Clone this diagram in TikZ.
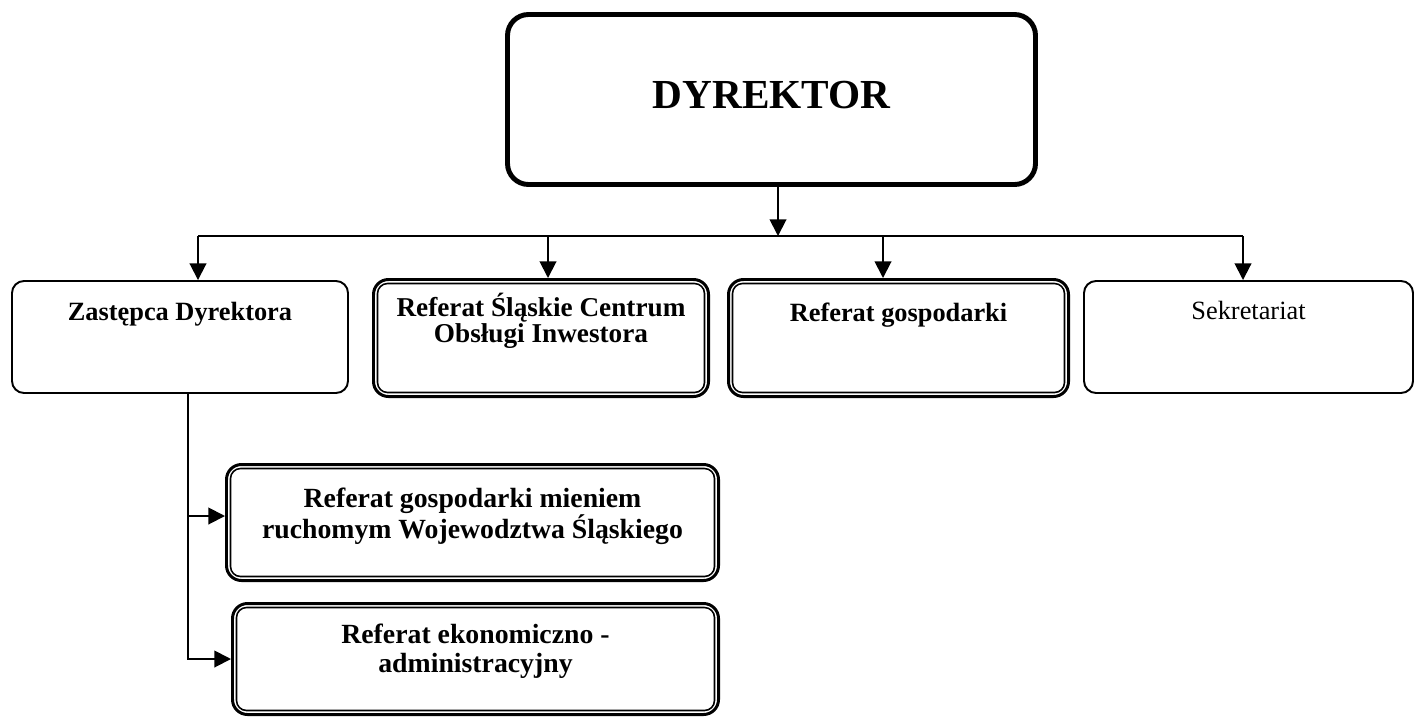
\documentclass[tikz,border=0pt]{standalone}
\usepackage{fontspec}
\setmainfont{Liberation Serif}
\usetikzlibrary{arrows.meta,calc,fit}

\tikzset{
  px/.style={x=0.02cm,y=-0.02cm},
  headbox/.style={draw, line width=2.8pt, rounded corners=0.42cm, inner sep=0pt},
  plainbox/.style={draw, line width=1.1pt, rounded corners=0.24cm, inner sep=0pt},
  dblbox/.style={draw, line width=1.7pt, rounded corners=0.3cm, inner sep=0pt},
  dblinner/.style={line width=0.9pt, rounded corners=0.2cm},
  conn/.style={line width=1.1pt},
  arr/.style={conn, -{Triangle[length=9.5pt,width=9.5pt]}},
  lbl/.style={inner sep=0pt, anchor=base},
}
% centred block of lines whose baseline is that of the first line
\newcommand\boxlines[3]{\parbox[t]{9cm}{\centering\fontsize{#1}{#2}\selectfont\bfseries #3}}

\begin{document}
\begin{tikzpicture}[px]
  \fill[white] (0,0) rectangle (1416,717);
  \useasboundingbox (0,0) rectangle (1416,717);

  % boxes
  \node[headbox, fit={(507.5,14.5) (1035.5,184.5)}, inner sep=0pt] (dir) {};
  \node[plainbox, fit={(12,281) (348,393)}, inner sep=0pt] (zast) {};
  \node[dblbox, fit={(373.5,279.5) (708.5,396.5)}, inner sep=0pt] (scoi) {};
  \node[dblbox, fit={(728.5,279.5) (1068.5,396.5)}, inner sep=0pt] (rgosp) {};
  \node[plainbox, fit={(1084,281) (1413,393)}, inner sep=0pt] (sekr) {};
  \node[dblbox, fit={(226.5,464.5) (718.5,580.5)}, inner sep=0pt] (rmien) {};
  \node[dblbox, fit={(232.5,603.5) (718.5,714.5)}, inner sep=0pt] (rekon) {};

  % inner line of the double-bordered boxes
  \foreach \n in {scoi,rgosp,rmien,rekon}
    \draw[dblinner] ($(\n.south west)+(0.11cm,0.11cm)$) rectangle ($(\n.north east)-(0.11cm,0.11cm)$);

  % labels
  \node[lbl, font=\fontsize{23.5}{26}\selectfont\bfseries] (tdir) at (771.5,108) {DYREKTOR};
  \node[lbl, font=\fontsize{15}{18}\selectfont\bfseries] (tzast) at (180,320) {Zastępca Dyrektora};
  \node[lbl] (tscoi) at (541,316) {\boxlines{15.5}{13.4}{Referat Śląskie Centrum\\Obsługi Inwestora}};
  \node[lbl, font=\fontsize{15}{18}\selectfont\bfseries] (trgosp) at (898.5,321) {Referat gospodarki};
  \node[lbl, font=\fontsize{15}{18}\selectfont] (tsekr) at (1248.5,319) {Sekretariat};
  \node[lbl] (trmien) at (472.5,507) {\boxlines{15.8}{16.2}{Referat gospodarki mieniem\\ruchomym Wojewodztwa Śląskiego}};
  \node[lbl] (trekon) at (475.5,643) {\boxlines{15.8}{17}{Referat ekonomiczno -\\administracyjny}};

  % connectors
  \coordinate (hub) at (778,236);
  \coordinate (hl) at (198,236);
  \coordinate (hr) at (1243,236);
  \coordinate (t2) at (548,236);
  \coordinate (t3) at (883,236);
  \coordinate (b1) at (188,516);
  \coordinate (b2) at (188,659);

  \draw[conn] (hl) -- (hr);
  \draw[arr] (dir.south -| hub) -- (hub);
  \draw[arr] (hl) -- (hl |- zast.north);
  \draw[arr] (t2) -- (t2 |- scoi.north);
  \draw[arr] (t3) -- (t3 |- rgosp.north);
  \draw[arr] (hr) -- (hr |- sekr.north);

  \draw[arr] (zast.south -| b2) -- (b2) -- (b2 -| rekon.west);
  \draw[arr] (b1) -- (b1 -| rmien.west);
\end{tikzpicture}
\end{document}
